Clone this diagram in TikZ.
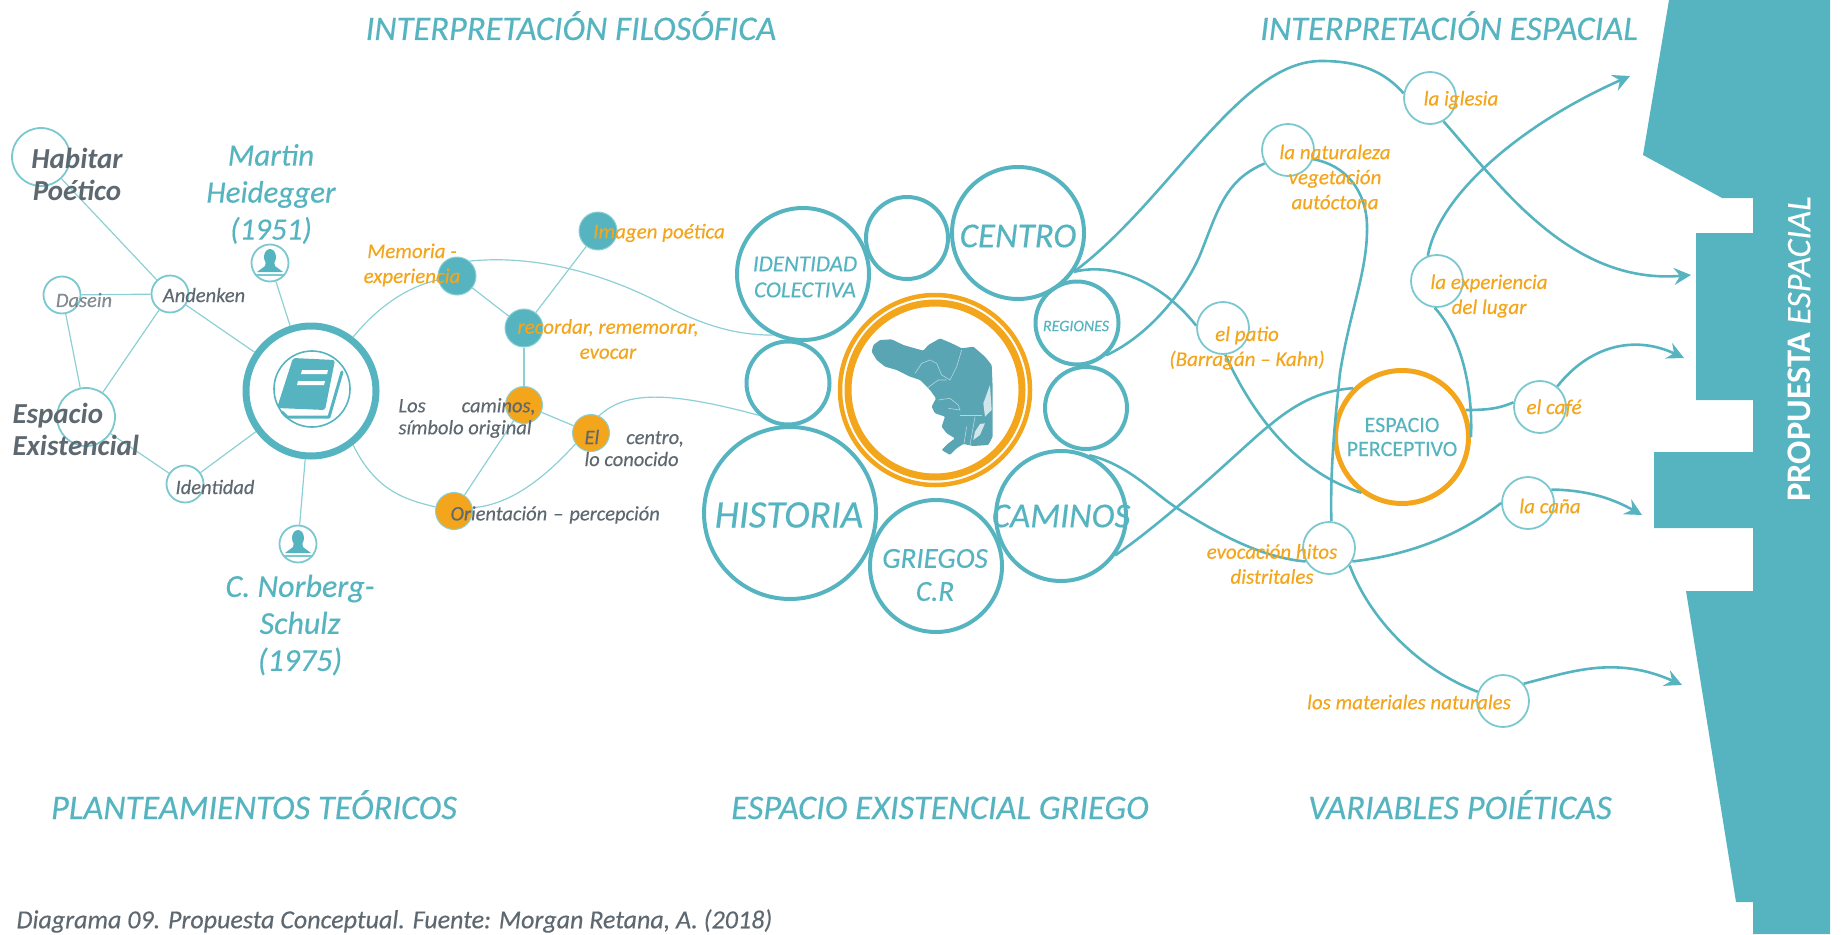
\documentclass[tikz,border=0pt]{standalone}
\usepackage{fontspec}
\usetikzlibrary{arrows.meta}
\setmainfont{Carlito}[ItalicFeatures={FakeBold=0.3},UprightFeatures={FakeBold=0.15}]
\definecolor{tealc}{HTML}{56B4C0}
\definecolor{thinc}{HTML}{8CD0D6}
\definecolor{softc}{HTML}{7CC8CF}
\definecolor{orangec}{HTML}{F3A51C}
\definecolor{greyc}{HTML}{5E6870}
\definecolor{mapc}{HTML}{5AA5B3}
\tikzset{
  ring/.style={circle,draw=tealc,line width=#1,inner sep=0pt,fill=none},
  softring/.style={circle,draw=softc,line width=1.8pt,inner sep=0pt,fill=none,minimum size=#1},
  tealdot/.style={circle,draw=thinc,line width=1pt,fill=tealc,inner sep=0pt,minimum size=38pt},
  orangedot/.style={circle,draw=thinc,line width=1pt,fill=orangec,inner sep=0pt,minimum size=37pt},
  bigring/.style={ring=4pt,minimum size=#1},
  headtxt/.style={anchor=base,text=tealc,font=\fontsize{34.5}{40}\selectfont\itshape},
  nametxt/.style={text=tealc,align=center,font=\fontsize{#1}{37}\selectfont\itshape},
  ringtxt/.style={text=tealc,align=center,font=\fontsize{#1}{#1}\selectfont\itshape},
  greytxt/.style={text=greyc,font=\fontsize{20.5}{22}\selectfont\itshape},
  boldtxt/.style={text=greyc,font=\fontsize{29}{32}\selectfont\bfseries\itshape},
  orangetxt/.style={text=orangec,align=center,font=\fontsize{21}{25}\selectfont\itshape},
  thinline/.style={draw=thinc,line width=1.2pt},
  thickline/.style={draw=tealc,line width=2.6pt},
  tip/.style={-{Stealth[length=17pt,width=17pt,inset=6pt]}}
}
\begin{document}
\begin{tikzpicture}[x=1pt,y=-1pt]
  \useasboundingbox (0,0) rectangle (1843,934);
  % panel on the right
  \fill[tealc] (1669,0) -- (1643,155) -- (1722,198) -- (1753,198) -- (1753,233) -- (1696,233)
    -- (1696,400) -- (1753,400) -- (1753,452) -- (1654,452) -- (1654,528) -- (1753,528)
    -- (1753,591) -- (1686,591) -- (1736,902) -- (1753,902) -- (1753,934) -- (1830,934)
    -- (1830,0) -- cycle;
  % circles
  \draw
    (41,157) node[softring=58pt] (habitar){}
    (62,295) node[softring=37pt] (dasein){}
    (170,294) node[softring=37pt] (andenken){}
    (86,417) node[softring=58pt] (espacio){}
    (185,484) node[softring=37pt] (identidad){}
    (311,391) node[bigring=130pt,line width=7pt] (libro){}
    (312,389) node[ring=1.6pt,minimum size=76pt] (libroin){}
    (270,263) node[softring=37pt] (perstop){}
    (298,544) node[softring=37pt] (persbot){}
    (457,276) node[tealdot] (memoria){}
    (598,231) node[tealdot] (imagen){}
    (524,328) node[tealdot] (recordar){}
    (524,405) node[orangedot] (caminosdot){}
    (591,433) node[orangedot] (centrodot){}
    (454,511) node[orangedot] (orientdot){}
    (803,274) node[bigring=132pt] (colectiva){}
    (907,238) node[bigring=82pt] (vacioa){}
    (1018,233) node[bigring=132pt] (centro){}
    (1077,323) node[bigring=83pt] (regiones){}
    (1086,408) node[bigring=82pt] (vaciob){}
    (1061,516) node[bigring=130pt] (caminos){}
    (936,566) node[bigring=132pt] (griegos){}
    (790,513) node[bigring=172pt] (historia){}
    (788,383) node[bigring=83pt] (vacioc){}
    (935,390) node[circle,draw=orangec,line width=4.5pt,inner sep=0pt,minimum size=190pt] (mapaout){}
    (935,390) node[circle,draw=orangec,line width=7pt,inner sep=0pt,minimum size=174pt] (mapain){}
    (1430,98) node[softring=52pt] (iglesia){}
    (1288,150) node[softring=52pt] (naturaleza){}
    (1437,281) node[softring=52pt] (experiencia){}
    (1223,328) node[softring=52pt] (patio){}
    (1402,437) node[circle,draw=orangec,line width=5pt,inner sep=0pt,minimum size=133pt] (perceptivo){}
    (1540,407) node[softring=52pt] (cafe){}
    (1528,503) node[softring=52pt] (cana){}
    (1329,548) node[softring=52pt] (evocacion){}
    (1503,701) node[softring=52pt] (materiales){};
  \coordinate (topfin) at (1630,76);
  \coordinate (iglfin) at (1691,275);
  \coordinate (caffin) at (1684,358);
  \coordinate (canfin) at (1642,515);
  \coordinate (matfin) at (1682,685);
  % thin connectors
  \begin{scope}[thinline]
    \draw (habitar) to (andenken);
    \draw (dasein) to (andenken);
    \draw (dasein) to (espacio);
    \draw (espacio) to (andenken);
    \draw (andenken) to (libro);
    \draw (espacio) to (identidad);
    \draw (identidad) to (libro);
    \draw (perstop) to (libro);
    \draw (persbot) to (libro);
    \draw (libro.52) .. controls (375,310) and (405,287) .. (memoria);
    \draw (libro.-52) .. controls (375,490) and (405,500) .. (orientdot);
    \draw (memoria) to (recordar);
    \draw (imagen) to (recordar);
    \draw (recordar) to (caminosdot);
    \draw (caminosdot) to (centrodot);
    \draw (caminosdot) to (orientdot);
    \draw (orientdot.10) .. controls (507,505) and (540,483) .. (centrodot.215);
    \draw (memoria.50) .. controls (530,255) and (600,270) .. (670,308) .. controls (710,328) and (740,335) .. (colectiva.244);
    \draw (centrodot.65) .. controls (625,392) and (665,390) .. (vacioc.228);
  \end{scope}
  % thick connectors
  \begin{scope}[thickline]
    \draw (centro.-35) .. controls (1170,200) and (1240,60) .. (1322,61) .. controls (1360,61) and (1385,72) .. (iglesia.170);
    \draw (regiones.-48) .. controls (1150,335) and (1185,290) .. (1200,255) .. controls (1218,210) and (1225,180) .. (naturaleza.210);
    \draw (centro.-35) .. controls (1110,262) and (1160,280) .. (patio.175);
    \draw (patio.-85) .. controls (1248,405) and (1290,470) .. (perceptivo.234);
    \draw (caminos.-36) .. controls (1180,510) and (1250,440) .. (1270,425) .. controls (1300,400) and (1325,390) .. (perceptivo.135);
    \draw (caminos.65) .. controls (1130,465) and (1155,495) .. (1180,510) .. controls (1225,538) and (1265,558) .. (evocacion.210);
    \draw (evocacion.85) .. controls (1330,470) and (1335,420) .. (1340,373) .. controls (1350,310) and (1368,270) .. (1367,225) .. controls (1366,190) and (1345,165) .. (naturaleza.-20);
    \draw (evocacion.-30) .. controls (1410,555) and (1460,535) .. (cana.180);
    \draw (evocacion.-40) .. controls (1370,620) and (1420,670) .. (materiales.160);
    \draw (perceptivo.23) .. controls (1490,410) and (1500,408) .. (cafe.170);
    \draw (experiencia.-95) .. controls (1460,335) and (1473,385) .. (perceptivo.0);
    \draw[tip] (materiales.40) .. controls (1570,672) and (1615,655) .. (matfin);
    \draw[tip] (cana.30) .. controls (1590,490) and (1615,500) .. (canfin);
    \draw[tip] (cafe.50) .. controls (1590,345) and (1635,335) .. (caffin);
    \draw[tip] (experiencia.110) .. controls (1440,190) and (1530,120) .. (topfin);
    \draw[tip] (iglesia.-60) .. controls (1500,185) and (1570,285) .. (iglfin);
  \end{scope}
  % book
  \fill[tealc,rounded corners=2.5pt] (293,358) -- (335,360) -- (325,410) -- (277,408) -- cycle;
  \fill[white] (302,370) -- (328,370) -- (327,374) -- (301,374) -- cycle;
  \fill[white] (298,381) -- (325,381) -- (324,385) -- (297,385) -- cycle;
  \draw[tealc,line width=3pt,line cap=round,line join=round] (342,372) -- (329,417) -- (287,417) -- (282,412);
  % persons
  \foreach \pers in {perstop,persbot} {
    \fill[tealc,shift={(\pers.center)}] (0,-6) ellipse (6 and 8);
    \fill[tealc,shift={(\pers.center)}] (-4,-2) -- (4,-2) -- (5,3) -- (13,9) -- (-13,9) -- (-5,3) -- cycle;
    \draw[softc,line width=1.6pt,shift={(\pers.center)}] (-15,12) -- (15,12);
  }
  % map
  \begin{scope}[shift={(860,320)},x=.3333pt,y=-.3333pt]
    \fill[mapc,rounded corners=1pt] (35,95) -- (40,75) -- (60,60) -- (95,58) -- (130,75) -- (165,85) -- (190,92)
      -- (205,75) -- (240,55) -- (275,70) -- (305,85) -- (340,80) -- (375,110) -- (395,135)
      -- (398,200) -- (398,290) -- (398,350) -- (385,375) -- (340,378) -- (310,372) -- (290,385)
      -- (270,405) -- (245,390) -- (265,370) -- (285,355) -- (260,340) -- (245,320) -- (255,290)
      -- (225,280) -- (215,260) -- (228,235) -- (210,210) -- (180,180) -- (150,170) -- (110,150)
      -- (75,140) -- (50,120) -- cycle;
    \fill[white!72!mapc] (390,195) -- (395,270) -- (375,290) -- (370,250) -- cycle;
    \fill[white!72!mapc] (375,310) -- (360,345) -- (340,360) -- (345,335) -- (360,312) -- cycle;
    \draw[white!55!mapc,line width=.6pt] (165,160) -- (185,130) -- (210,120) -- (230,130) -- (245,165) -- (270,180) -- (290,140) -- (305,90);
    \draw[white!55!mapc,line width=.6pt] (200,205) -- (235,180) -- (260,180);
    \draw[white!55!mapc,line width=.6pt] (235,240) -- (270,235) -- (295,255) -- (300,270) -- (265,265);
    \draw[white!55!mapc,line width=.6pt] (300,285) -- (365,285);
    \draw[white!55!mapc,line width=.6pt] (320,320) -- (312,370);
    \draw[white!55!mapc,line width=.6pt] (345,290) -- (330,375);
  \end{scope}
  % titles
  \node[headtxt] (tfilosofica) at (571,40) {INTERPRETACIÓN FILOSÓFICA};
  \node[headtxt] (tespacial) at (1449,40) {INTERPRETACIÓN ESPACIAL};
  \node[headtxt] (tteoricos) at (254,819) {PLANTEAMIENTOS TEÓRICOS};
  \node[headtxt] (tgriego) at (940,819) {ESPACIO EXISTENCIAL GRIEGO};
  \node[headtxt] (tpoieticas) at (1460,819) {VARIABLES POIÉTICAS};
  \node[anchor=west,text=greyc,font=\fontsize{26}{30}\selectfont\itshape] (caption) at (13,921) {Diagrama 09. Propuesta Conceptual. Fuente: Morgan Retana, A. (2018)};
  \node[rotate=90,text=white,font=\fontsize{34.5}{40}\selectfont] (tpropuesta) at (1799,349) {{\bfseries PROPUESTA} \itshape ESPACIAL};
  % left labels
  \node[boldtxt,align=center] (lhabitar) at (77,174) {Habitar\\Poético};
  \node[boldtxt,align=left,anchor=west] (lespacio) at (9,429) {Espacio\\Existencial};
  \node[greytxt,opacity=.75] (ldasein) at (84,300) {Dasein};
  \node[greytxt] (landenken) at (204,295) {Andenken};
  \node[greytxt] (lidentidad) at (215,487) {Identidad};
  \node[nametxt=31] (lmartin) at (271,194) {Martin\\Heidegger\\(1951)};
  \node[nametxt=32] (lnorberg) at (300,625) {C. Norberg-\\Schulz\\(1975)};
  \node[orangetxt] (lmemoria) at (412,265) {Memoria -\\experiencia};
  \node[orangetxt] (limagen) at (659,233) {Imagen poética};
  \node[orangetxt] (lrecordar) at (608,339) {recordar, rememorar,\\evocar};
  \node[greytxt,align=left,anchor=west] (lcaminos) at (395,418) {Los\hspace{36pt}caminos,\\símbolo original};
  \node[greytxt,align=left,anchor=west] (lcentro) at (581,448) {El\hspace{27pt}centro,\\lo conocido};
  \node[greytxt,anchor=west] (lorient) at (447,515) {Orientación\hspace{6pt}–\hspace{6pt}percepción};
  % ring labels
  \node[ringtxt=23] (lcolectiva) at (805,277) {IDENTIDAD\\[3pt]COLECTIVA};
  \node[ringtxt=35] (lcentro2) at (1018,236) {CENTRO};
  \node[ringtxt=16] (lregiones) at (1076,326) {REGIONES};
  \node[ringtxt=39] (lhistoria) at (789,515) {HISTORIA};
  \node[ringtxt=35] (lcaminos2) at (1061,516) {CAMINOS};
  \node[ringtxt=29] (lgriegos) at (935,575) {GRIEGOS\\[4pt]C.R};
  \node[text=tealc,align=center,font=\fontsize{22}{24}\selectfont] (lperceptivo) at (1402,437) {ESPACIO\\PERCEPTIVO};
  % right labels
  \node[orangetxt] (liglesia) at (1461,100) {la iglesia};
  \node[orangetxt] (lnaturaleza) at (1335,177) {la naturaleza\\vegetación\\autóctona};
  \node[orangetxt] (lexperiencia) at (1489,296) {la experiencia\\del lugar};
  \node[orangetxt] (lpatio) at (1247,348) {el patio\\(Barragán – Kahn)};
  \node[orangetxt] (lcafe) at (1554,408) {el café};
  \node[orangetxt] (lcana) at (1550,506) {la caña};
  \node[orangetxt] (levocacion) at (1272,564) {evocación hitos\\distritales};
  \node[orangetxt] (lmateriales) at (1409,702) {los materiales naturales};
\end{tikzpicture}
\end{document}
